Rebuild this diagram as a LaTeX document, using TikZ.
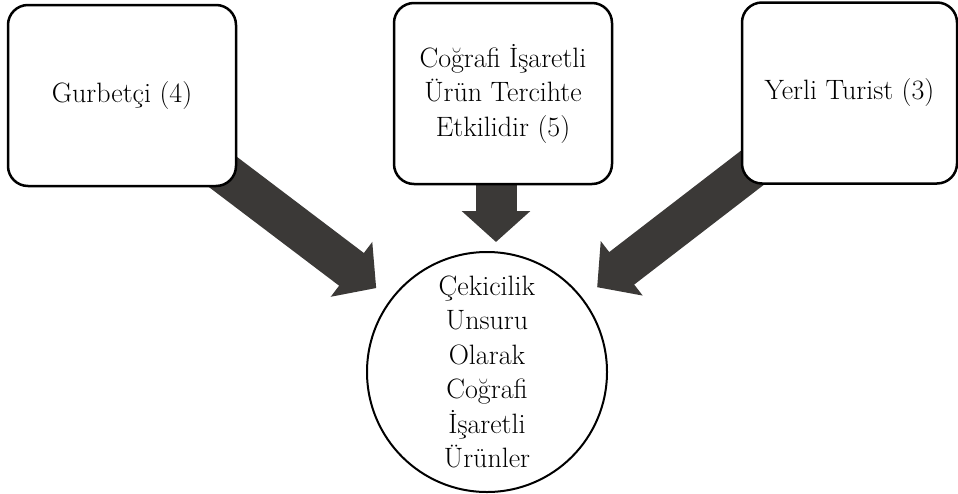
\documentclass[tikz,border=0pt]{standalone}
\usepackage{fontspec}
\usetikzlibrary{arrows.meta,backgrounds}
\definecolor{arrowgray}{RGB}{59,57,55}
\begin{document}
\begin{tikzpicture}[x=1pt, y=-1pt, line join=round, font=\fontsize{28}{34.5}\selectfont]
	\tikzset{box style/.style={draw, line width=2.5pt, fill=white, rounded corners=20pt, align=center, minimum height=181pt, inner sep=0pt},
		bigarrow/.style={draw=arrowgray, line width=41pt, -{Triangle[length=31pt, width=67pt]}}}
	\useasboundingbox (0,0) rectangle (958,493);
	\node[box style, minimum width=228pt] (gb) at (122,95.5) {Gurbetçi (4)};
	\node[box style, minimum width=218pt] (ci) at (503,93.5) {Coğrafi İşaretli\\Ürün Tercihte\\Etkilidir (5)};
	\node[box style, minimum width=215pt] (yt) at (849.5,93) {Yerli Turist (3)};
	\node[draw, circle, line width=2pt, fill=white, minimum size=240pt, inner sep=0pt, align=center] (cc) at (487,372) {Çekicilik\\Unsuru\\Olarak\\Coğrafi\\İşaretli\\Ürünler};
	\begin{scope}[on background layer]
		\draw[bigarrow, shorten >=18pt] (gb.center) -- (cc);
		\draw[bigarrow, shorten >=18pt] (yt.center) -- (cc);
		\draw[bigarrow, shorten >=9pt] ([xshift=-7pt]ci.center) -- ([xshift=-7pt]ci.center |- cc.north);
	\end{scope}
\end{tikzpicture}
\end{document}
